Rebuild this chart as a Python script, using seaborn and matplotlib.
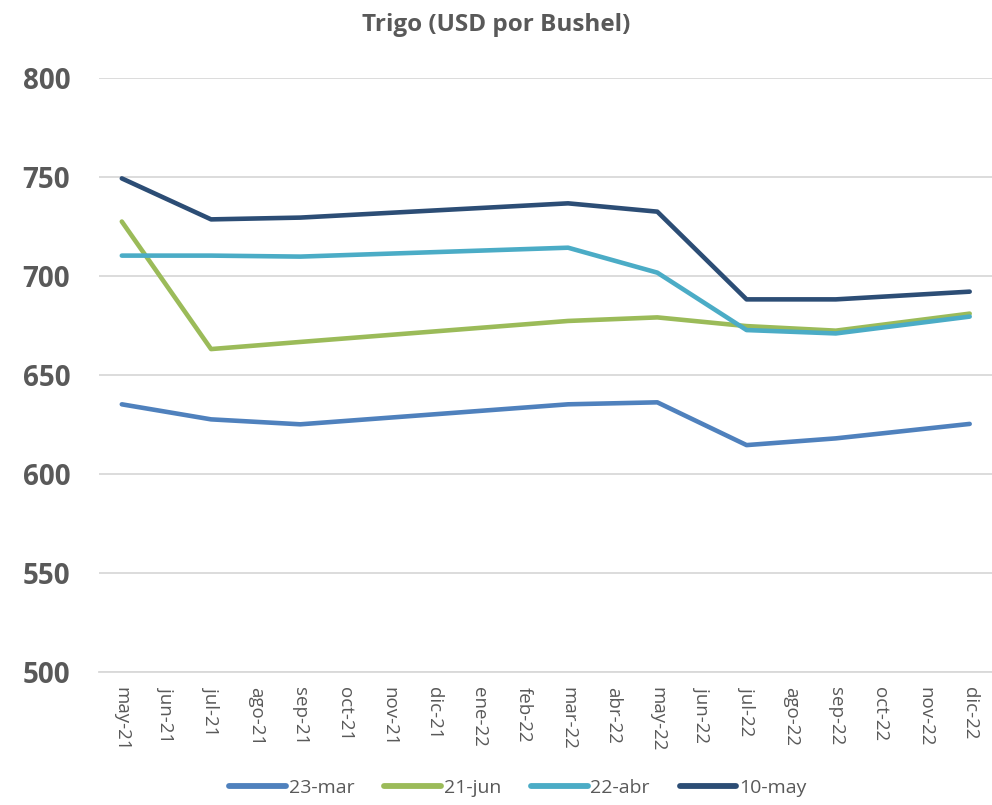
import pandas as pd
import matplotlib.pyplot as plt
import seaborn as sns

# Meses del eje (categorías)
meses = ['may-21', 'jun-21', 'jul-21', 'ago-21', 'sep-21', 'oct-21', 'nov-21',
         'dic-21', 'ene-22', 'feb-22', 'mar-22', 'abr-22', 'may-22', 'jun-22',
         'jul-22', 'ago-22', 'sep-22', 'oct-22', 'nov-22', 'dic-22']

# Vencimientos con cotización
vencimientos = ['may-21', 'jul-21', 'sep-21', 'mar-22', 'may-22', 'jul-22', 'sep-22', 'dic-22']

# Curvas de futuros por fecha de consulta
curva_23_mar = [635.2, 627.6, 625.1, 635.2, 636.2, 614.6, 618.0, 625.3]
curva_21_jun = [727.5, 663.1, 666.7, 677.3, 679.1, 674.7, 672.4, 681.0]
curva_22_abr = [710.3, 710.3, 709.8, 714.3, 701.7, 672.7, 671.0, 679.5]
curva_10_may = [749.3, 728.6, 729.5, 736.7, 732.5, 688.2, 688.2, 692.1]

series = ['23-mar', '21-jun', '22-abr', '10-may']
colores = ['#4F81BD', '#9BBB59', '#4BACC6', '#2C4D75']

df = pd.DataFrame({
    'vencimiento': vencimientos * 4,
    'precio': curva_23_mar + curva_21_jun + curva_22_abr + curva_10_may,
    'serie': [s for s in series for _ in vencimientos],
})
df['pos'] = df['vencimiento'].map({m: i for i, m in enumerate(meses)})

sns.set_style('white')
plt.rcParams['font.family'] = ['Open Sans', 'DejaVu Sans']
gris = '#595959'

fig = plt.figure(figsize=(9.92, 8.05), dpi=100)
ax = fig.add_axes([0.1003, 0.1652, 0.8997, 0.7379])

sns.lineplot(data=df, x='pos', y='precio', hue='serie', hue_order=series,
             palette=colores, estimator=None, sort=True, linewidth=3.3,
             ax=ax, legend=True)
for ln in ax.get_lines():
    ln.set_solid_capstyle('round')
    ln.set_solid_joinstyle('round')

ax.set_xlim(-0.5, len(meses) - 0.5)
ax.set_ylim(500, 800)
ax.set_yticks(range(500, 801, 50))
ax.set_xticks(range(len(meses)))
ax.set_xticklabels(meses, rotation=-90, fontsize=13.5, color=gris)
for t in ax.get_yticklabels():
    t.set_fontsize(20)
    t.set_fontweight('bold')
    t.set_color(gris)
ax.tick_params(axis='y', length=0, pad=21)
ax.tick_params(axis='x', length=0, pad=11)
ax.grid(axis='y', color='#D9D9D9', linewidth=1.3)
ax.set_axisbelow(True)
for lado in ['top', 'right', 'left']:
    ax.spines[lado].set_visible(False)
ax.spines['bottom'].set_color('#D9D9D9')
ax.spines['bottom'].set_linewidth(1.3)
ax.set_xlabel('')
ax.set_ylabel('')

fig.text(0.5, 1 - 25 / 805, 'Trigo (USD por Bushel)', ha='center', va='center',
         fontsize=17.5, fontweight='bold', color=gris)

handles, labels = ax.get_legend_handles_labels()
ax.legend_.remove()
for h in handles:
    h.set_linewidth(4.2)
    h.set_solid_capstyle('round')
leg = fig.legend(handles, labels, loc='center', bbox_to_anchor=(518 / 992, 1 - 788 / 805),
                 ncol=4, frameon=False, fontsize=14, handlelength=2.9,
                 handletextpad=0.15, columnspacing=1.55)
for t in leg.get_texts():
    t.set_color(gris)

fig.savefig('out.png', dpi=100)
